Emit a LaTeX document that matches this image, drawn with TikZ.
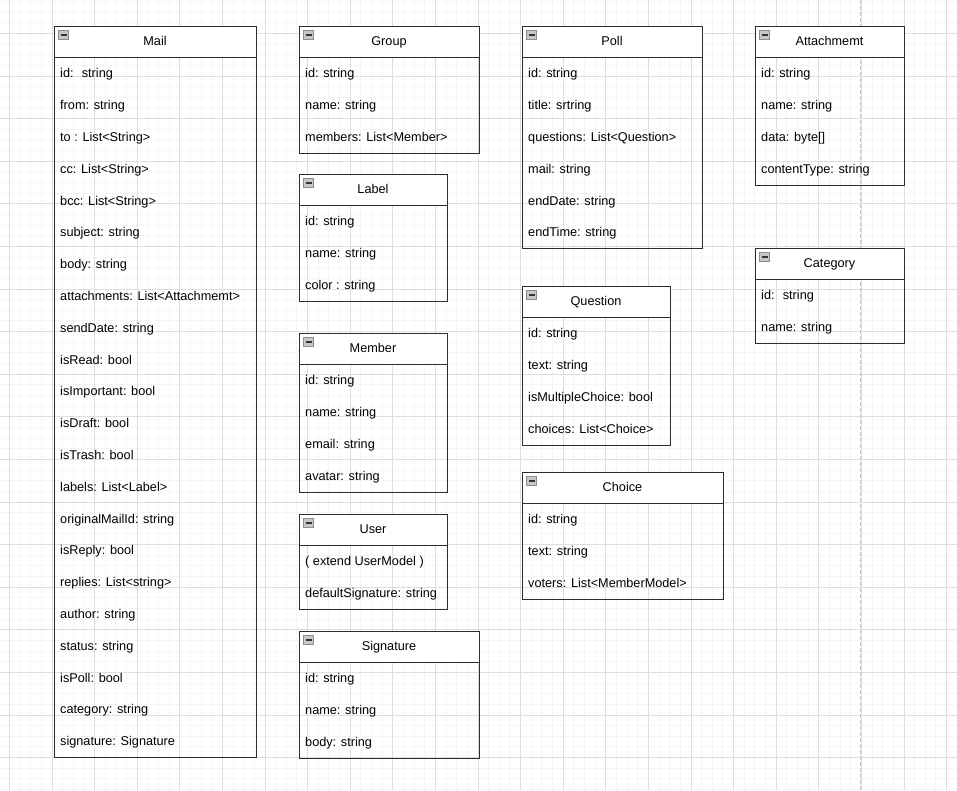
\documentclass[tikz,border=0pt]{standalone}
\usepackage{fontspec}
\setmainfont{Liberation Sans}
\usetikzlibrary{positioning}
\definecolor{gridminor}{RGB}{245,245,245}
\definecolor{gridmajor}{RGB}{222,222,222}
\definecolor{boxline}{RGB}{45,45,45}
\begin{document}
\begin{tikzpicture}[x=1pt, y=-1pt,
    head/.style = {draw=boxline, line width=1pt, fill=white, minimum height=31.8pt, inner sep=0pt, outer sep=0pt, anchor=north,
        text height=9.2pt, text depth=1.5pt, font=\fontsize{12.7}{15}\selectfont,
        path picture={\draw[black!45, fill=black!22, line width=0.8pt] ([xshift=4.5pt,yshift=-4.5pt]path picture bounding box.north west) rectangle ++(10pt,-9pt);
            \draw[black!80, line width=1.5pt] ([xshift=6.5pt,yshift=-9pt]path picture bounding box.north west) -- ++(6pt,0pt);}},
    body/.style = {draw=boxline, line width=1pt, inner sep=0pt, outer sep=0pt, below=0pt of #1},
    field/.style = {anchor=west, inner sep=0pt, text height=9.2pt, text depth=2.7pt, font=\fontsize{12.7}{15}\selectfont}
]
\useasboundingbox (0,0) rectangle (957,790);

% grid
\foreach \x in {9.3,19.95,...,957} \draw[gridminor, line width=0.8pt] (\x,0) -- (\x,790);
\foreach \y in {1.35,12,...,790} \draw[gridminor, line width=0.8pt] (0,\y) -- (957,\y);
\foreach \x in {9.3,51.9,...,957} \draw[gridmajor, line width=0.8pt] (\x,0) -- (\x,790);
\foreach \y in {33.3,75.9,...,790} \draw[gridmajor, line width=0.8pt] (0,\y) -- (957,\y);
\draw[black!22, line width=1pt, dash pattern=on 4pt off 2pt] (860.7,0) -- (860.7,790);

% Mail
\node[head, minimum width=202pt] (mail) at (155,26) {Mail};
\node[body={mail}, minimum width=202pt, minimum height=699.6pt] (mailbody) {};
\foreach \txt [count=\i] in {id:~ string, from: string, to : List<String>, cc: List<String>, bcc: List<String>,
        subject: string, body: string, attachments: List<Attachmemt>, sendDate: string, isRead: bool,
        isImportant: bool, isDraft: bool, isTrash: bool, labels: List<Label>, originalMailId: string,
        isReply: bool, replies: List<string>, author: string, status: string, isPoll: bool,
        category: string, signature: Signature}
    \node[field] (mail-\i) at ([xshift=6pt, yshift={-(\i-0.5)*31.8pt-1pt}]mailbody.north west) {\txt};

% Group
\node[head, minimum width=180pt] (group) at (389,26) {Group};
\node[body={group}, minimum width=180pt, minimum height=95.4pt] (groupbody) {};
\foreach \txt [count=\i] in {id: string, name: string, members: List<Member>}
    \node[field] (group-\i) at ([xshift=6pt, yshift={-(\i-0.5)*31.8pt-1pt}]groupbody.north west) {\txt};

% Label
\node[head, minimum width=148pt] (label) at (373,174) {Label};
\node[body={label}, minimum width=148pt, minimum height=95.4pt] (labelbody) {};
\foreach \txt [count=\i] in {id: string, name: string, color : string}
    \node[field] (label-\i) at ([xshift=6pt, yshift={-(\i-0.5)*31.8pt-1pt}]labelbody.north west) {\txt};

% Member
\node[head, minimum width=148pt] (member) at (373,333) {Member};
\node[body={member}, minimum width=148pt, minimum height=127.2pt] (memberbody) {};
\foreach \txt [count=\i] in {id: string, name: string, email: string, avatar: string}
    \node[field] (member-\i) at ([xshift=6pt, yshift={-(\i-0.5)*31.8pt-1pt}]memberbody.north west) {\txt};

% User
\node[head, minimum width=148pt] (user) at (373,514) {User};
\node[body={user}, minimum width=148pt, minimum height=63.6pt] (userbody) {};
\foreach \txt [count=\i] in {{( extend UserModel )}, defaultSignature: string}
    \node[field] (user-\i) at ([xshift=6pt, yshift={-(\i-0.5)*31.8pt-1pt}]userbody.north west) {\txt};

% Signature
\node[head, minimum width=180pt] (signature) at (389,631) {Signature};
\node[body={signature}, minimum width=180pt, minimum height=95.4pt] (signaturebody) {};
\foreach \txt [count=\i] in {id: string, name: string, body: string}
    \node[field] (signature-\i) at ([xshift=6pt, yshift={-(\i-0.5)*31.8pt-1pt}]signaturebody.north west) {\txt};

% Poll
\node[head, minimum width=180pt] (poll) at (612,26) {Poll};
\node[body={poll}, minimum width=180pt, minimum height=190.8pt] (pollbody) {};
\foreach \txt [count=\i] in {id: string, title: srtring, questions: List<Question>, mail: string, endDate: string, endTime: string}
    \node[field] (poll-\i) at ([xshift=6pt, yshift={-(\i-0.5)*31.8pt-1pt}]pollbody.north west) {\txt};

% Question
\node[head, minimum width=148pt] (question) at (596,286) {Question};
\node[body={question}, minimum width=148pt, minimum height=127.2pt] (questionbody) {};
\foreach \txt [count=\i] in {id: string, text: string, isMultipleChoice: bool, choices: List<Choice>}
    \node[field] (question-\i) at ([xshift=6pt, yshift={-(\i-0.5)*31.8pt-1pt}]questionbody.north west) {\txt};

% Choice
\node[head, minimum width=201pt] (choice) at (622.5,472) {Choice};
\node[body={choice}, minimum width=201pt, minimum height=95.4pt] (choicebody) {};
\foreach \txt [count=\i] in {id: string, text: string, voters: List<MemberModel>}
    \node[field] (choice-\i) at ([xshift=6pt, yshift={-(\i-0.5)*31.8pt-1pt}]choicebody.north west) {\txt};

% Attachmemt
\node[head, minimum width=149pt] (attachment) at (829.5,26) {Attachmemt};
\node[body={attachment}, minimum width=149pt, minimum height=127.2pt] (attachmentbody) {};
\foreach \txt [count=\i] in {id: string, name: string, {data: byte[]}, contentType: string}
    \node[field] (attachment-\i) at ([xshift=6pt, yshift={-(\i-0.5)*31.8pt-1pt}]attachmentbody.north west) {\txt};

% Category
\node[head, minimum width=149pt] (category) at (829.5,248) {Category};
\node[body={category}, minimum width=149pt, minimum height=63.6pt] (categorybody) {};
\foreach \txt [count=\i] in {id:~ string, name: string}
    \node[field] (category-\i) at ([xshift=6pt, yshift={-(\i-0.5)*31.8pt-1pt}]categorybody.north west) {\txt};
\end{tikzpicture}
\end{document}
